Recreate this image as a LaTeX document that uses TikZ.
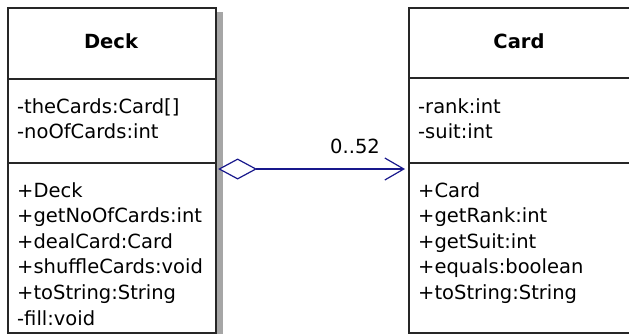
\documentclass[tikz,border=0pt]{standalone}
\usepackage{fontspec}
\setmainfont{DejaVu Sans}
\usetikzlibrary{arrows.meta}
\definecolor{umlblue}{RGB}{24,24,140}
\begin{document}
\begin{tikzpicture}[x=1pt,y=-1pt,
  box/.style={draw=black!85, line width=1.6pt, fill=white, inner sep=0pt, anchor=north west},
  txt/.style={anchor=base west, inner sep=0pt, font=\fontsize{19.5}{23}\selectfont},
  ttl/.style={inner sep=0pt, anchor=base, font=\fontsize{19.5}{23}\selectfont\bfseries},
  assoc/.style={draw=umlblue, line width=1.2pt}]
\useasboundingbox (0,0) rectangle (629,333);
% shadow
\fill[black!35] (217,12) rectangle (223,340);
% Deck class
\node[box, minimum width=208pt, minimum height=71pt] (deckT) at (7,7) {};
\node[box, minimum width=208pt, minimum height=84pt] (deckA) at (7,78) {};
\node[box, minimum width=208pt, minimum height=170pt] (deckM) at (7,162) {};
\node[ttl] (deckName) at (111,48) {Deck};
\node[txt] (dA1) at (17,113.5) {-theCards:Card[]};
\node[txt] (dA2) at (17,138.5) {-noOfCards:int};
\node[txt] (dM1) at (17,197) {+Deck};
\node[txt] (dM2) at (17,222.6) {+getNoOfCards:int};
\node[txt] (dM3) at (17,248.2) {+dealCard:Card};
\node[txt] (dM4) at (17,273.8) {+shuffleCards:void};
\node[txt] (dM5) at (17,299.4) {+toString:String};
\node[txt] (dM6) at (17,325) {-fill:void};
% Card class
\node[box, minimum width=222pt, minimum height=70pt] (cardT) at (408,7) {};
\node[box, minimum width=222pt, minimum height=85pt] (cardA) at (408,77) {};
\node[box, minimum width=222pt, minimum height=170pt] (cardM) at (408,162) {};
\node[ttl] (cardName) at (519,48) {Card};
\node[txt] (cA1) at (418,113) {-rank:int};
\node[txt] (cA2) at (418,138.5) {-suit:int};
\node[txt] (cM1) at (418,197) {+Card};
\node[txt] (cM2) at (418,222.6) {+getRank:int};
\node[txt] (cM3) at (418,248.2) {+getSuit:int};
\node[txt] (cM4) at (418,273.8) {+equals:boolean};
\node[txt] (cM5) at (418,299.4) {+toString:String};
% association
\coordinate (yline) at (0,169);
\draw[assoc, {Diamond[open,fill=white,length=39pt,width=21pt]}-{Straight Barb[length=19pt,width=22pt]}, shorten <=1.5pt, shorten >=3pt]
  (deckM.east |- yline) -- (cardM.west |- yline);
\node[txt] (mult) at (330,153) {0..52};
\end{tikzpicture}
\end{document}
